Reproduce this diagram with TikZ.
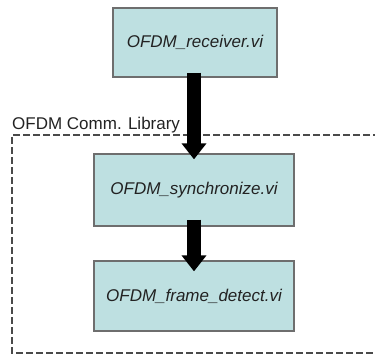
\documentclass[tikz,border=0pt]{standalone}
\usepackage{fontspec}
\setmainfont{Liberation Sans}
\usetikzlibrary{arrows.meta}
\definecolor{boxfill}{HTML}{BEE0E1}
\definecolor{boxline}{HTML}{6E6E6E}
\definecolor{dashline}{HTML}{4A4A4A}
\definecolor{txt}{HTML}{222222}
\tikzset{
  vibox/.style={draw=boxline, line width=1.3pt, fill=boxfill, inner sep=0pt, text=txt,
    font=\fontsize{17}{20}\selectfont\itshape},
  bigarrow/.style={line width=13.5pt, draw=black, -{Triangle[width=24pt,length=16pt]}},
  libframe/.style={draw=dashline, line width=1.8pt, dash pattern=on 7pt off 3pt}
}
\begin{document}
\begin{tikzpicture}[x=1pt,y=-1pt]
\useasboundingbox (0,0) rectangle (375,356);
\node[vibox, minimum width=164pt, minimum height=69pt] (recv) at (195,42.5) {OFDM\_receiver.vi};
\node[vibox, minimum width=200pt, minimum height=72pt] (sync) at (194,190) {OFDM\_synchronize.vi};
\node[vibox, minimum width=200pt, minimum height=70pt] (frame) at (194,296) {OFDM\_frame\_detect.vi};
\coordinate (lt) at (12,135);
\coordinate (lb) at (12,353);
\draw[libframe] (380,135) -- (lt) -- (lb) -- (380,353);
\node[anchor=base west, inner sep=0pt, text=txt, font=\fontsize{17}{20}\selectfont] (lib) at (12,129) {OFDM Comm. Library};
\draw[bigarrow] ([xshift=-1pt,yshift=5pt]recv.south) -- ([yshift=-6pt]sync.north);
\draw[bigarrow] ([yshift=7pt]sync.south) -- ([yshift=-11pt]frame.north);
\end{tikzpicture}
\end{document}
